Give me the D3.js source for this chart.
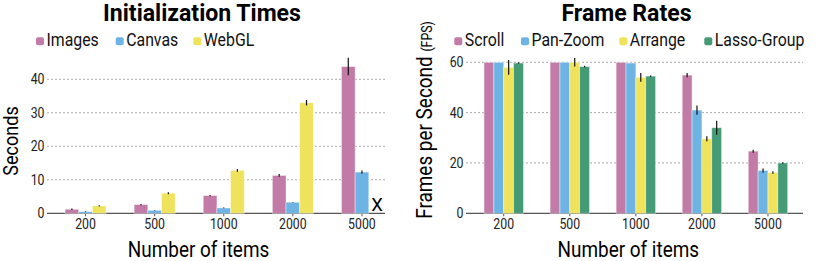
<!DOCTYPE html>
<html>
<head>
<meta charset="utf-8">
<script src="https://cdn.jsdelivr.net/npm/d3@7"></script>
<style>
  body { margin: 0; background: #fff; }
  svg { display: block; font-family: Roboto, "Noto Sans", sans-serif; }
  .grid line { stroke: #aaa; stroke-dasharray: 2,2; }
</style>
</head>
<body>
<svg id="chart" width="831" height="261"></svg>
<script>
const sizes = ['200', '500', '1000', '2000', '5000'];

// Initialization times (seconds)
const initSeries = ['Images', 'Canvas', 'WebGL'];
const imagesVals = [1.2, 2.6, 5.3, 11.3, 43.8];
const imagesErr = [0.2, 0.2, 0.2, 0.4, 2.6];
const canvasVals = [0.5, 0.9, 1.6, 3.3, 12.3];
const canvasErr = [0.1, 0.1, 0.1, 0.1, 0.5];
const webglVals = [2.2, 6.0, 12.8, 33.0, null];
const webglErr = [0.2, 0.3, 0.4, 0.8, null];
const initTicks = [0, 10, 20, 30, 40];

// Frame rates (FPS)
const fpsSeries = ['Scroll', 'Pan-Zoom', 'Arrange', 'Lasso-Group'];
const scrollVals = [60, 60, 60, 54.9, 24.7];
const scrollErr = [0, 0, 0, 0.8, 0.6];
const panZoomVals = [60, 60, 59.7, 41.0, 17.0];
const panZoomErr = [0, 0, 0, 1.8, 0.8];
const arrangeVals = [58.0, 60, 54.0, 29.6, 16.2];
const arrangeErr = [2.9, 1.7, 1.7, 1.0, 0.5];
const lassoVals = [59.7, 58.3, 54.5, 34.0, 20.0];
const lassoErr = [0.3, 0.3, 0.3, 2.8, 0.3];
const fpsTicks = [0, 20, 40, 60];

const colors = ['#c27ba6', '#6db4e4', '#efe35e', '#459b76'];

const svg = d3.select('#chart');

function drawPanel(cfg) {
  const g = svg.append('g').attr('class', cfg.cls);

  const x0 = d3.scaleBand().domain(sizes).range(cfg.xRange);
  const x1 = d3.scaleBand().domain(cfg.series).range([0, cfg.groupW]);
  const y = d3.scaleLinear().domain(cfg.yDomain).range(cfg.yRange);

  // grid
  g.append('g').attr('class', 'grid')
    .selectAll('line')
    .data(cfg.ticks.filter(d => d > 0))
    .join('line')
      .attr('x1', cfg.gridX[0]).attr('x2', cfg.gridX[1])
      .attr('y1', d => y(d)).attr('y2', d => y(d));

  // y tick labels
  g.append('g')
    .selectAll('text')
    .data(cfg.ticks)
    .join('text')
      .attr('class', 'cond')
      .attr('x', cfg.gridX[0] - 2.5)
      .attr('y', d => y(d))
      .attr('dy', '0.36em')
      .attr('text-anchor', 'end')
      .style('font-size', '14px')
      .style('fill', '#222')
      .text(d => d);

  // baseline + category ticks
  g.append('line')
    .attr('x1', cfg.gridX[0]).attr('x2', cfg.gridX[1])
    .attr('y1', y(0)).attr('y2', y(0))
    .style('stroke', '#555').style('stroke-width', 1.2);
  g.append('g').selectAll('line')
    .data(sizes)
    .join('line')
      .attr('x1', d => x0(d) + x0.bandwidth() / 2)
      .attr('x2', d => x0(d) + x0.bandwidth() / 2)
      .attr('y1', y(0)).attr('y2', y(0) + 3)
      .style('stroke', '#555');

  // bars
  const rows = [];
  cfg.vals.forEach((arr, si) => {
    arr.forEach((v, i) => {
      if (v != null) rows.push({ size: sizes[i], s: cfg.series[si], si, v, e: cfg.errs[si][i] });
    });
  });

  const bx = d => x0(d.size) + (x0.bandwidth() - cfg.groupW) / 2 + x1(d.s);

  g.append('g').selectAll('rect')
    .data(rows)
    .join('rect')
      .attr('x', bx)
      .attr('y', d => y(d.v))
      .attr('width', x1.bandwidth())
      .attr('height', d => y(0) - y(d.v))
      .style('fill', d => colors[d.si])
      .style('stroke', '#fff')
      .style('stroke-opacity', 0.5)
      .style('stroke-width', 0.8);

  g.append('g').selectAll('line')
    .data(rows.filter(d => d.e > 0))
    .join('line')
      .attr('x1', d => bx(d) + x1.bandwidth() / 2)
      .attr('x2', d => bx(d) + x1.bandwidth() / 2)
      .attr('y1', d => y(d.v - d.e))
      .attr('y2', d => y(d.v + d.e))
      .style('stroke', '#111')
      .style('stroke-width', 1.2);

  // x labels
  g.append('g').selectAll('text')
    .data(sizes)
    .join('text')
      .attr('class', 'cond')
      .attr('x', d => x0(d) + x0.bandwidth() / 2)
      .attr('y', y(0) + 16)
      .attr('text-anchor', 'middle')
      .style('font-size', '14px')
      .style('fill', '#222')
      .text(d => d);

  g.append('text')
    .attr('class', 'cond')
    .attr('x', cfg.xTitleX)
    .attr('y', 256.5)
    .attr('text-anchor', 'middle')
    .style('font-size', '21.5px')
    .text('Number of items');

  g.append('text')
    .attr('class', 'title')
    .attr('x', cfg.titleX)
    .attr('y', 21)
    .attr('text-anchor', 'middle')
    .style('font-size', '24px')
    .style('font-weight', 'bold')
    .text(cfg.title);

  // legend
  const leg = g.append('g').selectAll('g')
    .data(cfg.series)
    .join('g')
      .attr('transform', (d, i) => `translate(${cfg.legendX[i]}, 45.5)`);
  leg.append('rect')
    .attr('x', 0).attr('y', -8.2)
    .attr('width', 8).attr('height', 8)
    .attr('rx', 2)
    .style('fill', (d, i) => colors[i]);
  leg.append('text')
    .attr('class', 'cond')
    .attr('x', 10.5)
    .style('font-size', '18px')
    .style('fill', '#111')
    .text(d => d);

  return { x0, x1, y, g };
}

const left = drawPanel({
  cls: 'init',
  title: 'Initialization Times',
  series: initSeries,
  vals: [imagesVals, canvasVals, webglVals],
  errs: [imagesErr, canvasErr, webglErr],
  ticks: initTicks,
  yDomain: [0, 40],
  yRange: [213.3, 79.3],
  xRange: [51, 396.5],
  groupW: 41,
  gridX: [47, 385],
  titleX: 202,
  xTitleX: 198.5,
  legendX: [36, 115.7, 193.3]
});

// WebGL had no result at 5000
left.g.append('text')
  .attr('x', left.x0('5000') + left.x0.bandwidth() / 2 + 15)
  .attr('y', 211)
  .attr('text-anchor', 'middle')
  .style('font-size', '18.5px')
  .text('X');

left.g.append('text')
  .attr('class', 'cond')
  .attr('transform', 'translate(18, 141) rotate(-90)')
  .attr('text-anchor', 'middle')
  .style('font-size', '20.5px')
  .text('Seconds');

const right = drawPanel({
  cls: 'fps',
  title: 'Frame Rates',
  series: fpsSeries,
  vals: [scrollVals, panZoomVals, arrangeVals, lassoVals],
  errs: [scrollErr, panZoomErr, arrangeErr, lassoErr],
  ticks: fpsTicks,
  yDomain: [0, 60],
  yRange: [213.3, 62.3],
  xRange: [470.7, 801],
  groupW: 39.4,
  gridX: [466, 803],
  titleX: 626.5,
  xTitleX: 628.3,
  legendX: [454.3, 521, 619.3, 704.3]
});

const yt = right.g.append('text')
  .attr('transform', 'translate(431.5, 120) rotate(-90)')
  .attr('text-anchor', 'middle')
  .style('font-size', '21.5px');
yt.append('tspan').attr('class', 'cond').text('Frames per Second ');
yt.append('tspan').attr('class', 'cond').style('font-size', '14px').text('(FPS)');

// Roboto squeezed to look like the condensed face of the original
svg.selectAll('.cond').each(function () {
  const len = this.getComputedTextLength();
  d3.select(this).attr('textLength', len * 0.88).attr('lengthAdjust', 'spacingAndGlyphs');
});
svg.selectAll('.title').each(function () {
  const len = this.getComputedTextLength();
  d3.select(this).attr('textLength', len * 0.96).attr('lengthAdjust', 'spacingAndGlyphs');
});
</script>
</body>
</html>
